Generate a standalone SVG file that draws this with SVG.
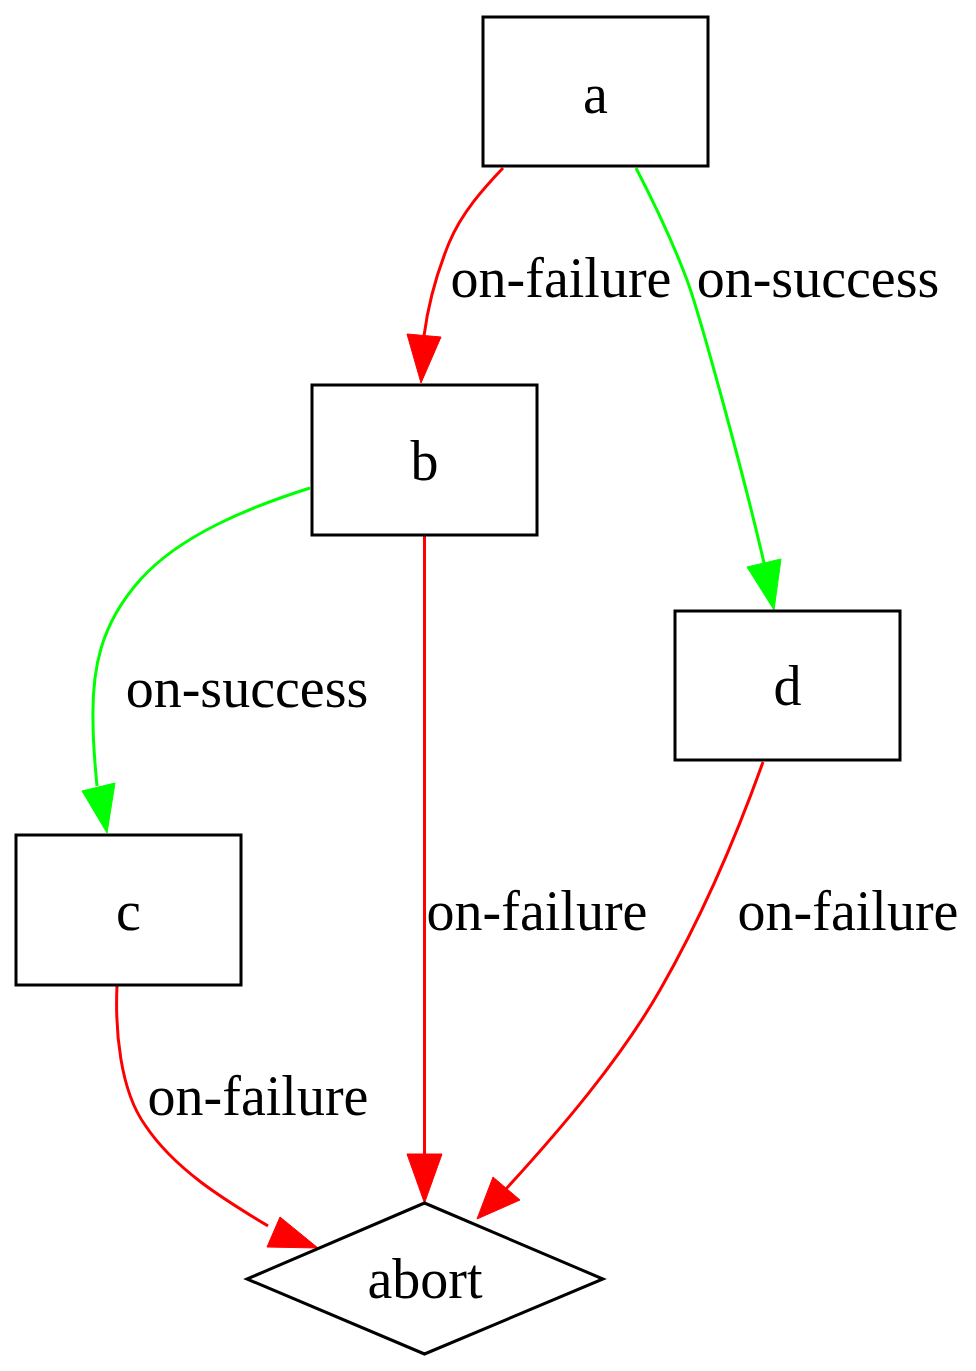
<svg xmlns="http://www.w3.org/2000/svg" width="976" height="1371" viewBox="0 0 976 1371">
<style>
.node{fill:#fff;stroke:#000;stroke-width:3}
.t{font-family:"Liberation Serif","Times New Roman",serif;font-size:56px;text-anchor:middle;fill:#000}
.r{fill:none;stroke:#ff0000;stroke-width:3}
.g{fill:none;stroke:#00ff00;stroke-width:3}
.ra{fill:#ff0000;stroke:#ff0000;stroke-width:1}
.ga{fill:#00ff00;stroke:#00ff00;stroke-width:1}
</style>
<rect width="976" height="1371" fill="#fff"/>
<g id="edges">
<path class="r" d="M503,168 C484,188 462,212 449,243 C438,270 428,305 424,336"/>
<polygon class="ra" points="407,334 441,337 421,383"/>
<text class="t" x="561" y="297">on-failure</text>
<path class="g" d="M636,168 C650,195 672,240 687,280 C700,315 745,480 764,563"/>
<polygon class="ga" points="747,567 781,559 774,610"/>
<text class="t" x="818" y="297">on-success</text>
<path class="g" d="M310,488 C250,507 180,535 140,580 C100,625 92,670 93,720 C93,745 95,765 97,786"/>
<polygon class="ga" points="82,791 115,783 107,833"/>
<text class="t" x="247" y="707">on-success</text>
<path class="r" d="M424.5,536 L424.5,1155"/>
<polygon class="ra" points="407,1154 442,1154 424.5,1203"/>
<text class="t" x="537" y="930">on-failure</text>
<path class="r" d="M763,762 C735,840 700,920 660,990 C620,1060 560,1130 506,1189"/>
<polygon class="ra" points="493,1177 520,1200 477,1219"/>
<text class="t" x="848" y="930">on-failure</text>
<path class="r" d="M117,986 C115,1030 120,1090 145,1125 C175,1170 225,1200 268,1226"/>
<polygon class="ra" points="280,1217 267,1247 318,1248"/>
<text class="t" x="258" y="1115">on-failure</text>
</g>
<g id="a"><rect class="node" x="483" y="17" width="225" height="149"/><text class="t" x="595.5" y="113">a</text></g>
<g id="b"><rect class="node" x="312" y="385" width="225" height="150"/><text class="t" x="424.5" y="480">b</text></g>
<g id="c"><rect class="node" x="16" y="835" width="225" height="150"/><text class="t" x="128.5" y="930">c</text></g>
<g id="d"><rect class="node" x="675" y="611" width="225" height="149"/><text class="t" x="787.5" y="705">d</text></g>
<g id="abort"><polygon class="node" points="424.5,1203 603,1279 424.5,1354 247,1279"/><text class="t" x="425" y="1298">abort</text></g>
</svg>
